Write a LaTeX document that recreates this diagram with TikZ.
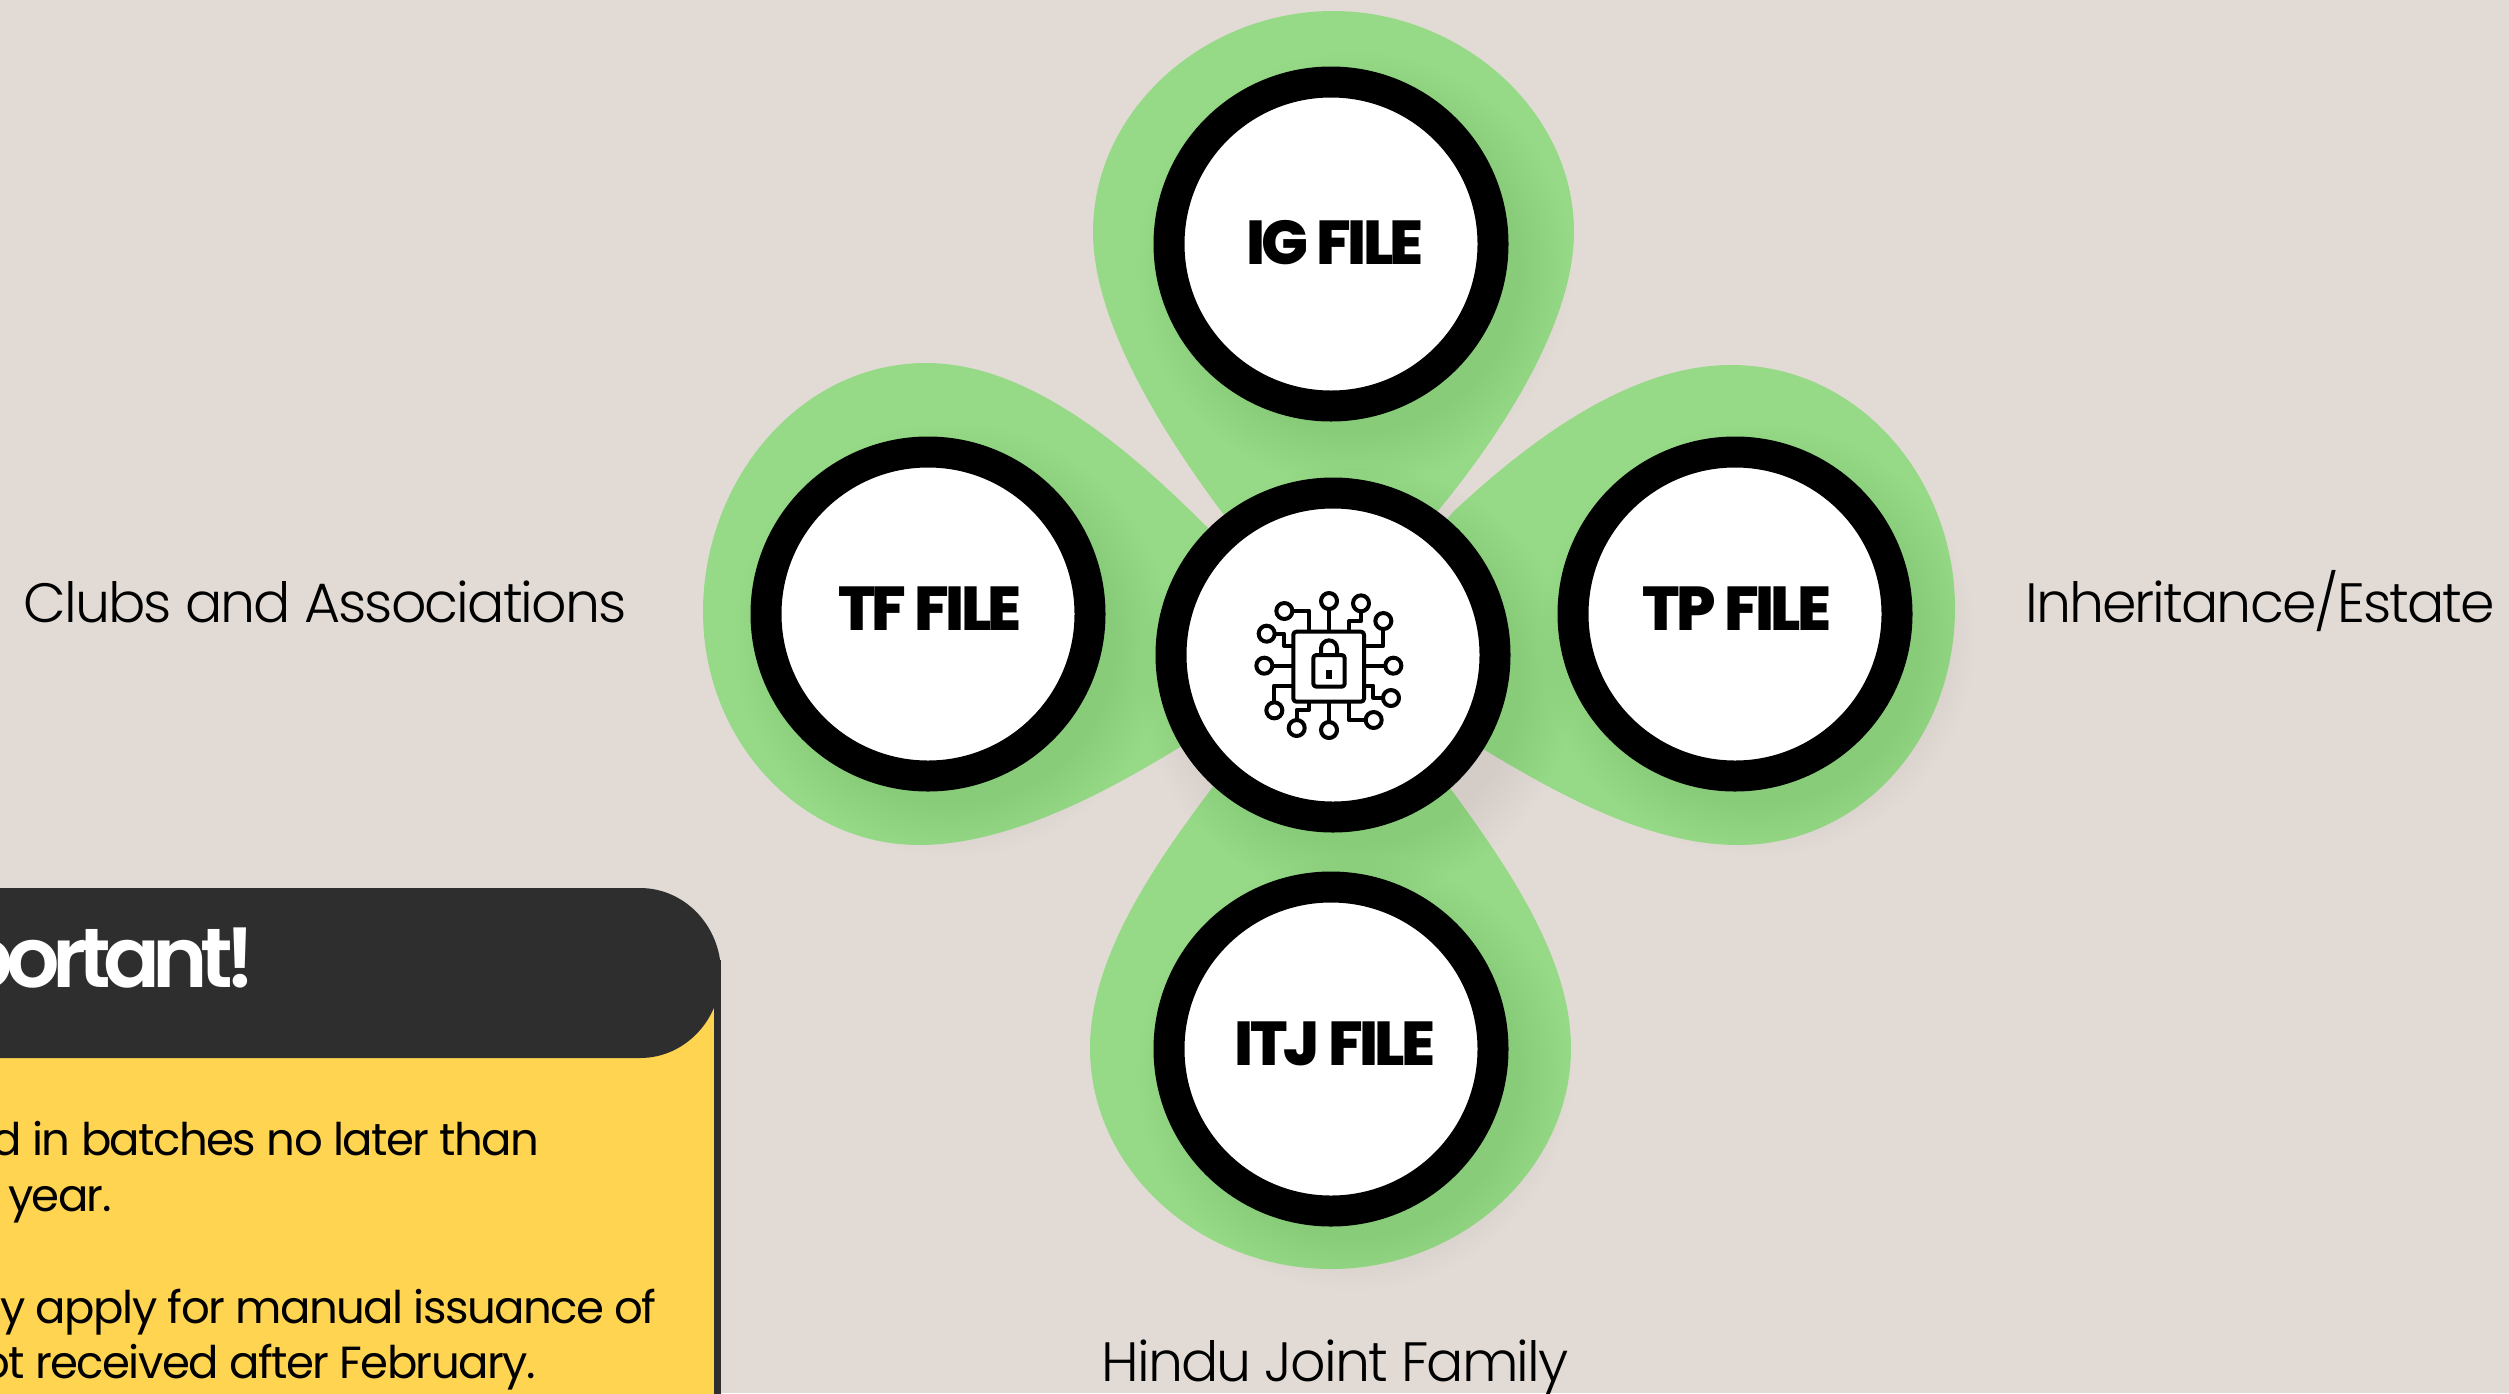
\documentclass[tikz,border=0pt]{standalone}
\usepackage{fontspec}
\setmainfont{Poppins}
\newfontfamily\poplight[LetterSpace=-3.5]{Poppins Light}
\newfontfamily\popbody[LetterSpace=-3.5]{Poppins}
\newfontfamily\popheavy[LetterSpace=-6]{Poppins ExtraBold}
\newfontfamily\poptitle[LetterSpace=-9]{Poppins SemiBold}
\definecolor{bgc}{HTML}{E2DBD5}
\definecolor{petal}{HTML}{96DA87}
\definecolor{darkbar}{HTML}{2E2E2E}
\definecolor{notec}{HTML}{FFD451}
\tikzset{
  filecircle/.style={circle,draw=black,fill=white,line width=15.5pt,minimum size=162pt,inner sep=0pt},
  filetext/.style={anchor=base,inner sep=0pt,font=\popheavy\fontsize{31}{31}\selectfont,text=black},
  petalfill/.style={fill=petal},
  sidelabel/.style={anchor=base,inner sep=0pt,font=\poplight\fontsize{27.7}{27.7}\selectfont,text=black},
  notetext/.style={anchor=base east,inner sep=0pt,font=\popbody\fontsize{22.5}{22.5}\selectfont,text=black},
  wire/.style={line width=2pt,line join=round,draw=black},
  pad/.style={wire,fill=white}
}
\newcommand{\softshadow}[2]{%
  \foreach \r in {165,169,...,217}{\fill[black,opacity=0.005] (#1+24,#2+26) circle[radius=\r*0.5pt];}}
\begin{document}
\begin{tikzpicture}[x=0.5pt,y=-0.5pt]
\useasboundingbox (0,0) rectangle (2509,1393);
\clip (0,0) rectangle (2509,1393);
\fill[bgc] (0,0) rectangle (2509,1393);
% petals
\fill[petalfill] (1224,515) .. controls (1160,430) and (1093,320) .. (1093,232) .. controls (1093,110) and (1205,11) .. (1333,11) .. controls (1460,11) and (1574,110) .. (1574,232) .. controls (1574,320) and (1505,430) .. (1437,512) -- (1333,655) -- cycle;
\fill[petalfill] (1212,788) .. controls (1150,870) and (1090,960) .. (1090,1048) .. controls (1090,1170) and (1200,1269) .. (1331,1269) .. controls (1460,1269) and (1571,1170) .. (1571,1048) .. controls (1571,960) and (1510,870) .. (1453,792) -- (1333,655) -- cycle;
\fill[petalfill] (1208,528) .. controls (1130,450) and (1030,363) .. (926,363) .. controls (800,363) and (703,480) .. (703,612) .. controls (703,740) and (800,845) .. (919,845) .. controls (1010,845) and (1110,790) .. (1180,747) -- (1333,655) -- cycle;
\fill[petalfill] (1453,512) .. controls (1530,440) and (1630,365) .. (1731,365) .. controls (1860,365) and (1955,480) .. (1955,608) .. controls (1955,740) and (1860,845) .. (1738,845) .. controls (1650,845) and (1560,795) .. (1488,752) -- (1333,655) -- cycle;
% shadows
\softshadow{1331}{243}
\softshadow{928}{614}
\softshadow{1734}{614}
\softshadow{1331}{1048}
\softshadow{1333}{655}
% circles
\node[filecircle] (ig) at (1331,244) {};
\node[filecircle] (tf) at (928,614) {};
\node[filecircle] (tp) at (1735,614) {};
\node[filecircle] (itj) at (1331,1049) {};
\node[filecircle] (hub) at (1333,655) {};
\node[filetext] (igt) at (1335,264) {IG FILE};
\node[filetext] (tft) at (930,630) {TF FILE};
\node[filetext] (tpt) at (1737,630) {TP FILE};
\node[filetext] (itjt) at (1335,1065) {ITJ FILE};
% icon
\begin{scope}[shift={(1180,480)},x=0.16667pt,y=-0.16667pt]
\draw[wire,rounded corners=1.5pt] (340,455) rectangle (552,665);
\draw[wire,rounded corners=1.5pt] (400,525) rectangle (494,620);
\draw[wire] (423,525) -- (423,505) arc[start angle=180,end angle=0,radius=24*0.16667pt] -- (471,525);
\fill[black] (439,571) rectangle (455,596);
\draw[wire] (447,455) -- (447,390);
\draw[wire] (387,450) -- (387,392) -- (340,392);
\draw[wire] (285,461) -- (312,461) -- (312,497) -- (340,497);
\draw[wire] (280,557) -- (340,557);
\draw[wire] (340,617) -- (282,617) -- (282,665);
\draw[wire] (387,668) -- (387,690) -- (350,690) -- (350,718);
\draw[wire] (447,668) -- (447,725);
\draw[wire] (507,668) -- (507,720) -- (555,720);
\draw[wire] (552,617) -- (580,617) -- (580,653) -- (607,653);
\draw[wire] (552,557) -- (613,557);
\draw[wire] (552,497) -- (610,497) -- (610,450);
\draw[wire] (507,450) -- (507,423) -- (543,423) -- (543,397);
\foreach \a/\b in {447/363,313/393,260/461,253/557,283/691,350/744,447/750,581/720,633/654,640/557,610/423,543/370}
  \draw[pad] (\a,\b) circle[radius=4pt];
\end{scope}
% labels
\node[sidelabel] (clubs) at (325,622) {Clubs and Associations};
\node[sidelabel] (estate) at (2260,622) {Inheritance/Estate};
\node[sidelabel] (hindu) at (1335,1381) {Hindu Joint Family};
% note
\fill[notec] (-20,960) rectangle (714,1420);
\fill[darkbar] (714,960) rectangle (721,1420);
\fill[darkbar] (-100,888) -- (640,888) arc[start angle=90,end angle=0,x radius=40.5pt,y radius=42.5pt] arc[start angle=0,end angle=-90,x radius=40.5pt,y radius=42.5pt] -- (-100,1058) -- cycle;
\node[anchor=base east,inner sep=0pt,font=\poptitle\fontsize{42}{42}\selectfont,text=white] (head) at (256,987) {portant!};
\node[notetext] (n1) at (540,1155) {d in batches no later than};
\node[notetext] (n2) at (112,1211) {year.};
\node[notetext] (n3) at (657,1323) {y apply for manual issuance of};
\node[notetext] (n4) at (536,1378) {ot received after February.};
\end{tikzpicture}
\end{document}
